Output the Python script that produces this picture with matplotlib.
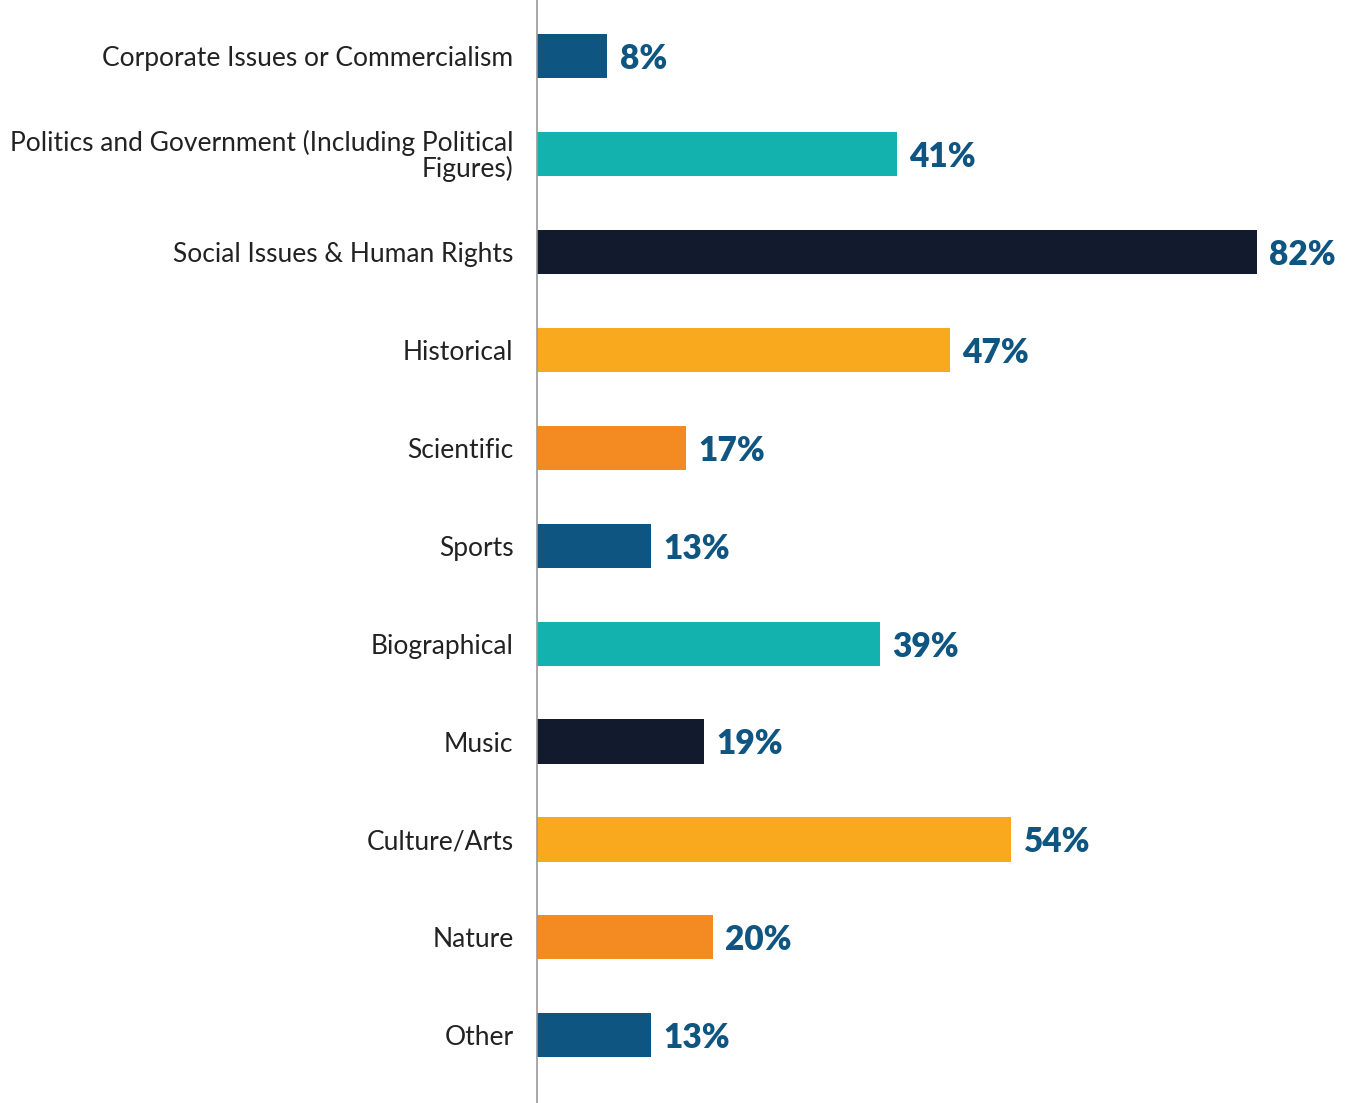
import matplotlib
matplotlib.use("Agg")
import matplotlib.pyplot as plt

categories = [
    "Corporate Issues or Commercialism",
    "Politics and Government (Including Political\nFigures)",
    "Social Issues & Human Rights",
    "Historical",
    "Scientific",
    "Sports",
    "Biographical",
    "Music",
    "Culture/Arts",
    "Nature",
    "Other",
]
values = [8, 41, 82, 47, 17, 13, 39, 19, 54, 20, 13]
colors = ["#0f5581", "#13b2ae", "#121a2e", "#f8a91e", "#f48a22"] * 3

plt.rcParams["font.family"] = ["Lato", "DejaVu Sans"]

fig = plt.figure(figsize=(13.45, 11.03), dpi=100)
ax = fig.add_axes([537 / 1345, 0.0, 1 - 537 / 1345, 1.0])

pos = list(range(len(categories)))
ax.barh(pos, values, height=0.45, color=colors[:len(values)], zorder=2)

for y, v in zip(pos, values):
    ax.text(v + 1.4, y + 0.03, f"{v}%", va="center", ha="left",
            fontsize=24, fontweight="heavy", color="#0f5581")

ax.set_xlim(0, 92)
ax.set_ylim(10.69, -0.57)
ax.set_yticks(pos)
ax.set_yticklabels(categories, fontsize=19, color="#222222", linespacing=1.0)
ax.tick_params(axis="y", length=0, pad=17)
ax.set_xticks([])

for side in ["top", "right", "bottom"]:
    ax.spines[side].set_visible(False)
ax.spines["left"].set_color("#999999")
ax.spines["left"].set_linewidth(1.2)

fig.savefig("out.png", dpi=100)
